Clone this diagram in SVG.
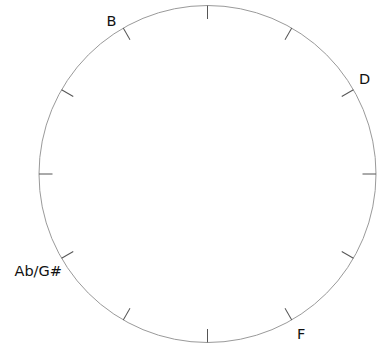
<svg xmlns="http://www.w3.org/2000/svg" width="385" height="347" viewBox="0 0 385 347">
<style>
.ring{fill:none;stroke:#9a9a9a;stroke-width:1}
.tick{stroke:#555;stroke-width:1}
.lbl{font-family:"DejaVu Sans",sans-serif;font-size:14.5px;fill:#111}
</style>
<rect width="385" height="347" fill="#fff"/>
<g id="circle">
<circle class="ring" cx="207.5" cy="174" r="168.5"/>
</g>
<g id="ticks" transform="translate(207.5,174)">
<line class="tick" x1="0" y1="-168.5" x2="0" y2="-155" transform="rotate(0)"/>
<line class="tick" x1="0" y1="-168.5" x2="0" y2="-155" transform="rotate(30)"/>
<line class="tick" x1="0" y1="-168.5" x2="0" y2="-155" transform="rotate(60)"/>
<line class="tick" x1="0" y1="-168.5" x2="0" y2="-155" transform="rotate(90)"/>
<line class="tick" x1="0" y1="-168.5" x2="0" y2="-155" transform="rotate(120)"/>
<line class="tick" x1="0" y1="-168.5" x2="0" y2="-155" transform="rotate(150)"/>
<line class="tick" x1="0" y1="-168.5" x2="0" y2="-155" transform="rotate(180)"/>
<line class="tick" x1="0" y1="-168.5" x2="0" y2="-155" transform="rotate(210)"/>
<line class="tick" x1="0" y1="-168.5" x2="0" y2="-155" transform="rotate(240)"/>
<line class="tick" x1="0" y1="-168.5" x2="0" y2="-155" transform="rotate(270)"/>
<line class="tick" x1="0" y1="-168.5" x2="0" y2="-155" transform="rotate(300)"/>
<line class="tick" x1="0" y1="-168.5" x2="0" y2="-155" transform="rotate(330)"/>
</g>
<g id="labels">
<text class="lbl" x="106.5" y="25.5">B</text>
<text class="lbl" x="359" y="83.5">D</text>
<text class="lbl" x="14.5" y="275.5">Ab/G#</text>
<text class="lbl" x="297" y="338.5">F</text>
</g>
</svg>
